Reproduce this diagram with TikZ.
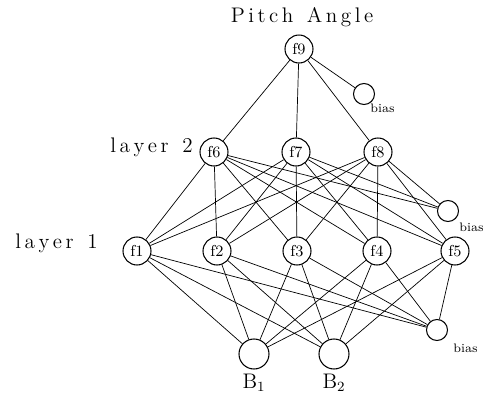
\documentclass[tikz,border=0pt]{standalone}
\usepackage{tikz}
\usetikzlibrary{positioning}

\begin{document}
\begin{tikzpicture}[
                x=0.02cm, y=-0.02cm,
                neuron/.style={circle, draw, semithick, fill=white, minimum size=0.56cm, inner sep=0pt, font=\small},
                biasnode/.style={circle, draw, semithick, fill=white, minimum size=0.42cm, inner sep=0pt},
                inputnode/.style={circle, draw, semithick, fill=white, minimum size=0.6cm, inner sep=0pt},
                link/.style={thin},
                layerlabel/.style={font=\large},
                biaslabel/.style={font=\scriptsize, anchor=west, inner sep=0pt}
            ]
                \useasboundingbox (0,0) rectangle (488,396);

                % Output neuron and its bias
                \node[neuron] (f9) at (299,49) {f9};
                \node[biasnode] (b3) at (364,94) {};

                % Layer 2
                \node[neuron] (f6) at (214,152) {f6};
                \node[neuron] (f7) at (296,152) {f7};
                \node[neuron] (f8) at (378,152) {f8};
                \node[biasnode] (b2) at (448,211) {};

                % Layer 1
                \node[neuron] (f1) at (137,251) {f1};
                \node[neuron] (f2) at (217,251) {f2};
                \node[neuron] (f3) at (297,251) {f3};
                \node[neuron] (f4) at (377,251) {f4};
                \node[neuron] (f5) at (455,251) {f5};
                \node[biasnode] (b1) at (437,330) {};

                % Inputs
                \node[inputnode] (B1) at (254,354) {};
                \node[inputnode] (B2) at (334,354) {};

                % Connections
                \foreach \t in {f6,f7,f8,b3}
                    \draw[link] (f9) -- (\t);
                \foreach \s in {f6,f7,f8}
                    \foreach \t in {f1,f2,f3,f4,f5,b2}
                        \draw[link] (\s) -- (\t);
                \foreach \s in {f1,f2,f3,f4,f5}
                    \foreach \t in {B1,B2,b1}
                        \draw[link] (\s) -- (\t);

                % Labels
                \node[layerlabel] (title) at (302,17) {P\,i\,t\,c\,h\ \ A\,n\,g\,l\,e};
                \node[layerlabel, anchor=east] (lay2) at (199,147) {l\,a\,y\,e\,r\ \ 2};
                \node[layerlabel, anchor=east] (lay1) at (104,243) {l\,a\,y\,e\,r\ \ 1};
                \node[layerlabel] (lB1) at (254,383) {B$_1$};
                \node[layerlabel] (lB2) at (334,383) {B$_2$};
                \node[biaslabel] (lb3) at (370,108) {bias};
                \node[biaslabel] (lb2) at (459,227) {bias};
                \node[biaslabel] (lb1) at (453,348) {bias};
            \end{tikzpicture}
\end{document}
